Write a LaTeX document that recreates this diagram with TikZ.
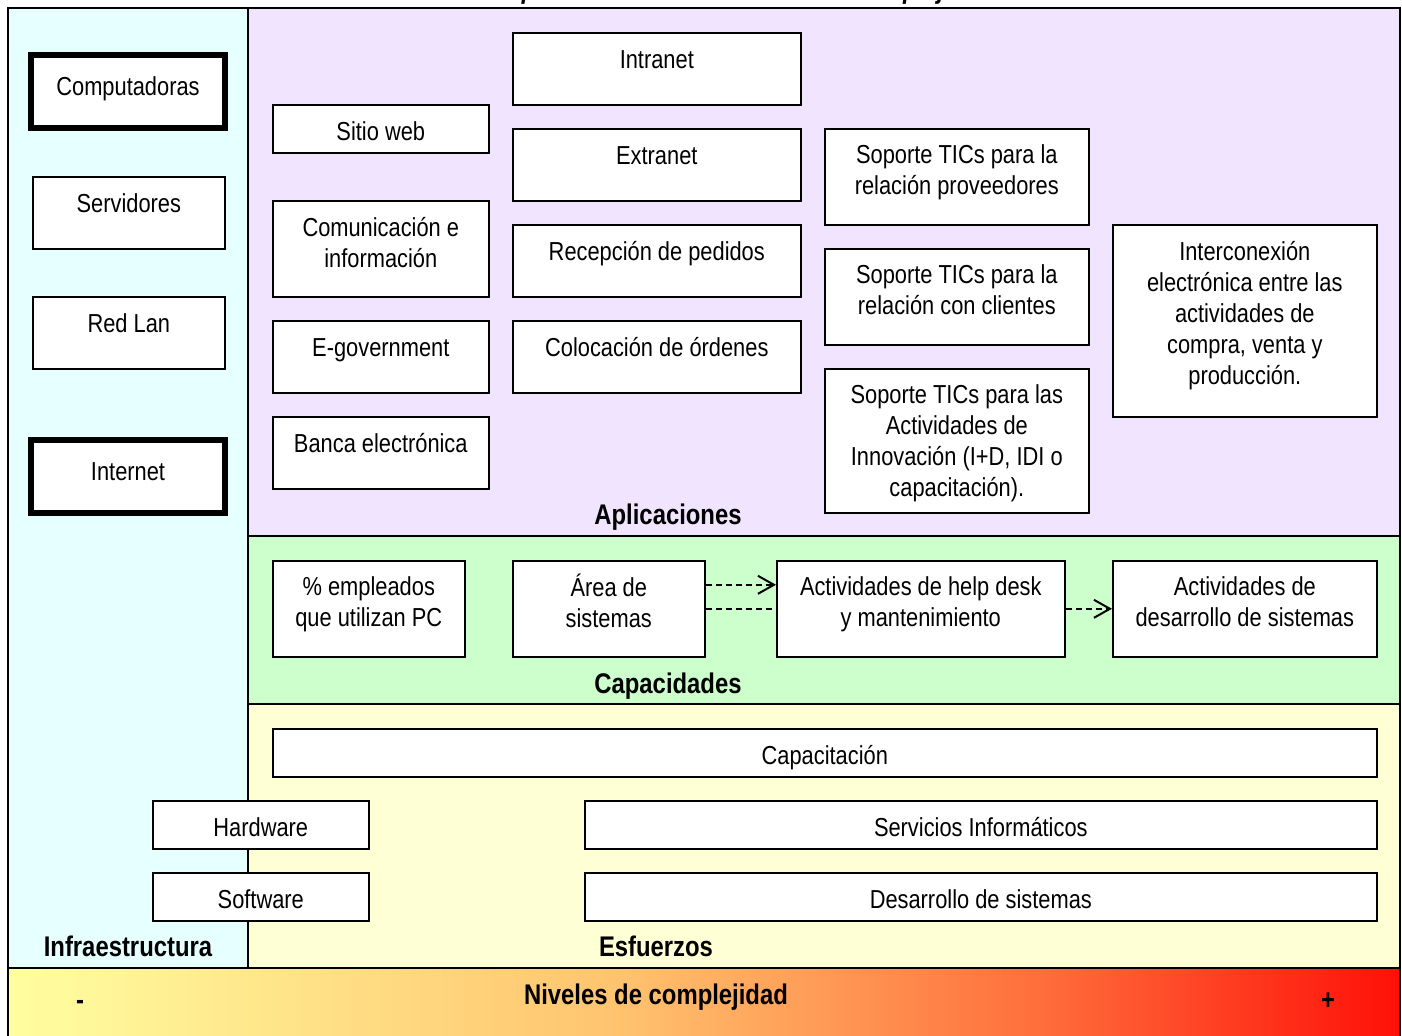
\documentclass[tikz,border=0pt]{standalone}
\usepackage{fontspec}
\setmainfont[FakeStretch=0.84]{Liberation Sans}
\usetikzlibrary{arrows.meta}
\definecolor{celeste}{RGB}{230,255,255}
\definecolor{lavanda}{RGB}{240,228,255}
\definecolor{menta}{RGB}{204,255,204}
\definecolor{crema}{RGB}{255,255,214}
\definecolor{amarillo}{RGB}{255,255,160}
\definecolor{naranja}{RGB}{255,195,110}
\definecolor{coral}{RGB}{255,110,60}
\definecolor{rojo}{RGB}{255,16,8}
\pgfdeclarehorizontalshading{complejidad}{100bp}{color(0bp)=(amarillo); color(25bp)=(amarillo); color(47bp)=(naranja); color(62bp)=(coral); color(75bp)=(rojo); color(100bp)=(rojo)}

\begin{document}
\begin{tikzpicture}[x=0.5pt, y=-0.5pt,
    caja/.style={draw, fill=white, line width=0.8pt, inner sep=0pt, anchor=north west},
    gruesa/.style={caja, line width=3pt},
    texto/.style={anchor=north, yshift=-5.5pt, align=center, inner sep=0pt, font=\fontsize{13}{15.5}\selectfont, execute at begin node=\rule{0pt}{12.5pt}},
    lineas/.style={texto, yshift=-2.8pt},
    rotulo/.style={anchor=base, inner sep=0pt, font=\bfseries\fontsize{14.2}{17}\selectfont},
    flecha/.style={line width=1pt, dash pattern=on 3pt off 2pt},
    borde/.style={line width=1.3pt}]
    \useasboundingbox (0,0) rectangle (1402,1036);
    % fondos de los niveles
    \fill[celeste]                    (   8,   8) rectangle ( 248, 968);
    \fill[lavanda]                    ( 248,   8) rectangle (1400, 536);
    \fill[menta]                      ( 248, 536) rectangle (1400, 704);
    \fill[crema]                      ( 248, 704) rectangle (1400, 968);
    \shade[shading=complejidad]       (   8, 968) rectangle (1400,1036);
    \draw[borde] (8,1036) -- (8,8) -- (1400,8) -- (1400,1036);
    \draw[borde]                      (   8, 968) -- (1400, 968);
    \draw[borde]                      ( 248,   8) -- ( 248, 968);
    \draw[borde]                      ( 248, 536) -- (1400, 536);
    \draw[borde]                      ( 248, 704) -- (1400, 704);
    \node[rotulo, font=\bfseries\itshape\fontsize{14.2}{17}\selectfont] (titulo) at (739,-1) {Esquema: Modelo de niveles de complejidad};
    % infraestructura
    \node[gruesa, minimum width=97pt, minimum height=36.5pt, label={[texto, yshift=-3.5pt]north:Computadoras}] (computadoras) at ( 28,  52) {};
    \node[caja,   minimum width=96pt, minimum height=36pt,   label={[texto]north:Servidores}]                 (servidores)   at ( 32, 176) {};
    \node[caja,   minimum width=96pt, minimum height=36pt,   label={[texto]north:Red Lan}]                    (redlan)       at ( 32, 296) {};
    \node[gruesa, minimum width=97pt, minimum height=36.5pt, label={[texto, yshift=-3.5pt]north:Internet}]     (internet)     at ( 28, 437) {};
    % aplicaciones
    \node[caja, minimum width=108pt, minimum height=24pt, label={[texto]north:Sitio web}]                          (sitio)         at ( 272, 104) {};
    \node[caja, minimum width=108pt, minimum height=48pt, label={[lineas]north:Comunicación e\\información}]       (comunicacion)  at ( 272, 200) {};
    \node[caja, minimum width=108pt, minimum height=36pt, label={[texto]north:E-government}]                       (egov)          at ( 272, 320) {};
    \node[caja, minimum width=108pt, minimum height=36pt, label={[texto]north:Banca electrónica}]                  (banca)         at ( 272, 416) {};
    \node[caja, minimum width=144pt, minimum height=36pt, label={[texto]north:Intranet}]                           (intranet)      at ( 512,  32) {};
    \node[caja, minimum width=144pt, minimum height=36pt, label={[texto]north:Extranet}]                           (extranet)      at ( 512, 128) {};
    \node[caja, minimum width=144pt, minimum height=36pt, label={[texto]north:Recepción de pedidos}]               (recepcion)     at ( 512, 224) {};
    \node[caja, minimum width=144pt, minimum height=36pt, label={[texto]north:Colocación de órdenes}]              (colocacion)    at ( 512, 320) {};
    \node[caja, minimum width=132pt, minimum height=48pt, label={[lineas]north:Soporte TICs para la\\relación proveedores}] (proveedores) at ( 824, 128) {};
    \node[caja, minimum width=132pt, minimum height=48pt, label={[lineas]north:Soporte TICs para la\\relación con clientes}] (clientes) at ( 824, 248) {};
    \node[caja, minimum width=132pt, minimum height=72pt, label={[lineas]north:Soporte TICs para las\\Actividades de\\Innovación (I+D, IDI o\\capacitación).}] (innovacion) at ( 824, 368) {};
    \node[caja, minimum width=132pt, minimum height=96pt, label={[lineas]north:Interconexión\\electrónica entre las\\actividades de\\compra, venta y\\producción.}] (interconexion) at (1112, 224) {};
    \node[rotulo] (aplicaciones) at (668, 525) {Aplicaciones};
    % capacidades
    \node[caja, minimum width=96pt,  minimum height=48pt, label={[lineas]north:\% empleados\\que utilizan PC}]           (empleados)  at ( 272, 560) {};
    \node[caja, minimum width=96pt,  minimum height=48pt, label={[lineas, yshift=1.5pt]north:Área de\\sistemas}]          (area)       at ( 512, 560) {};
    \node[caja, minimum width=144pt, minimum height=48pt, label={[lineas]north:Actividades de help desk\\y mantenimiento}] (helpdesk)   at ( 776, 560) {};
    \node[caja, minimum width=132pt, minimum height=48pt, label={[lineas]north:Actividades de\\desarrollo de sistemas}]   (desarrollo) at (1112, 560) {};
    \draw[flecha, -{Straight Barb[length=8pt, width=9pt, line width=1pt]}] ([yshift=12pt]area.east) -- ([yshift=12pt]helpdesk.west);
    \draw[flecha] (area.east) -- (helpdesk.west);
    \draw[flecha, -{Straight Barb[length=8pt, width=9pt, line width=1pt]}] (helpdesk.east) -- (desarrollo.west);
    \node[rotulo] (capacidades) at (668, 693) {Capacidades};
    % esfuerzos
    \node[caja, minimum width=552pt, minimum height=24pt, label={[texto]north:Capacitación}]           (capacitacion) at ( 272, 728) {};
    \node[caja, minimum width=108pt, minimum height=24pt, label={[texto]north:Hardware}]               (hardware)     at ( 152, 800) {};
    \node[caja, minimum width=396pt, minimum height=24pt, label={[texto]north:Servicios Informáticos}] (servicios)    at ( 584, 800) {};
    \node[caja, minimum width=108pt, minimum height=24pt, label={[texto]north:Software}]               (software)     at ( 152, 872) {};
    \node[caja, minimum width=396pt, minimum height=24pt, label={[texto]north:Desarrollo de sistemas}] (dessist)      at ( 584, 872) {};
    \node[rotulo] (infra)     at (128, 956) {Infraestructura};
    \node[rotulo] (esfuerzos) at (656, 956) {Esfuerzos};
    % barra de complejidad
    \node[rotulo] (niveles) at ( 656,1004) {Niveles de complejidad};
    \node[rotulo] (menos)   at (  80,1009) {-};
    \node[rotulo] (mas)     at (1328,1009) {+};
\end{tikzpicture}
\end{document}
